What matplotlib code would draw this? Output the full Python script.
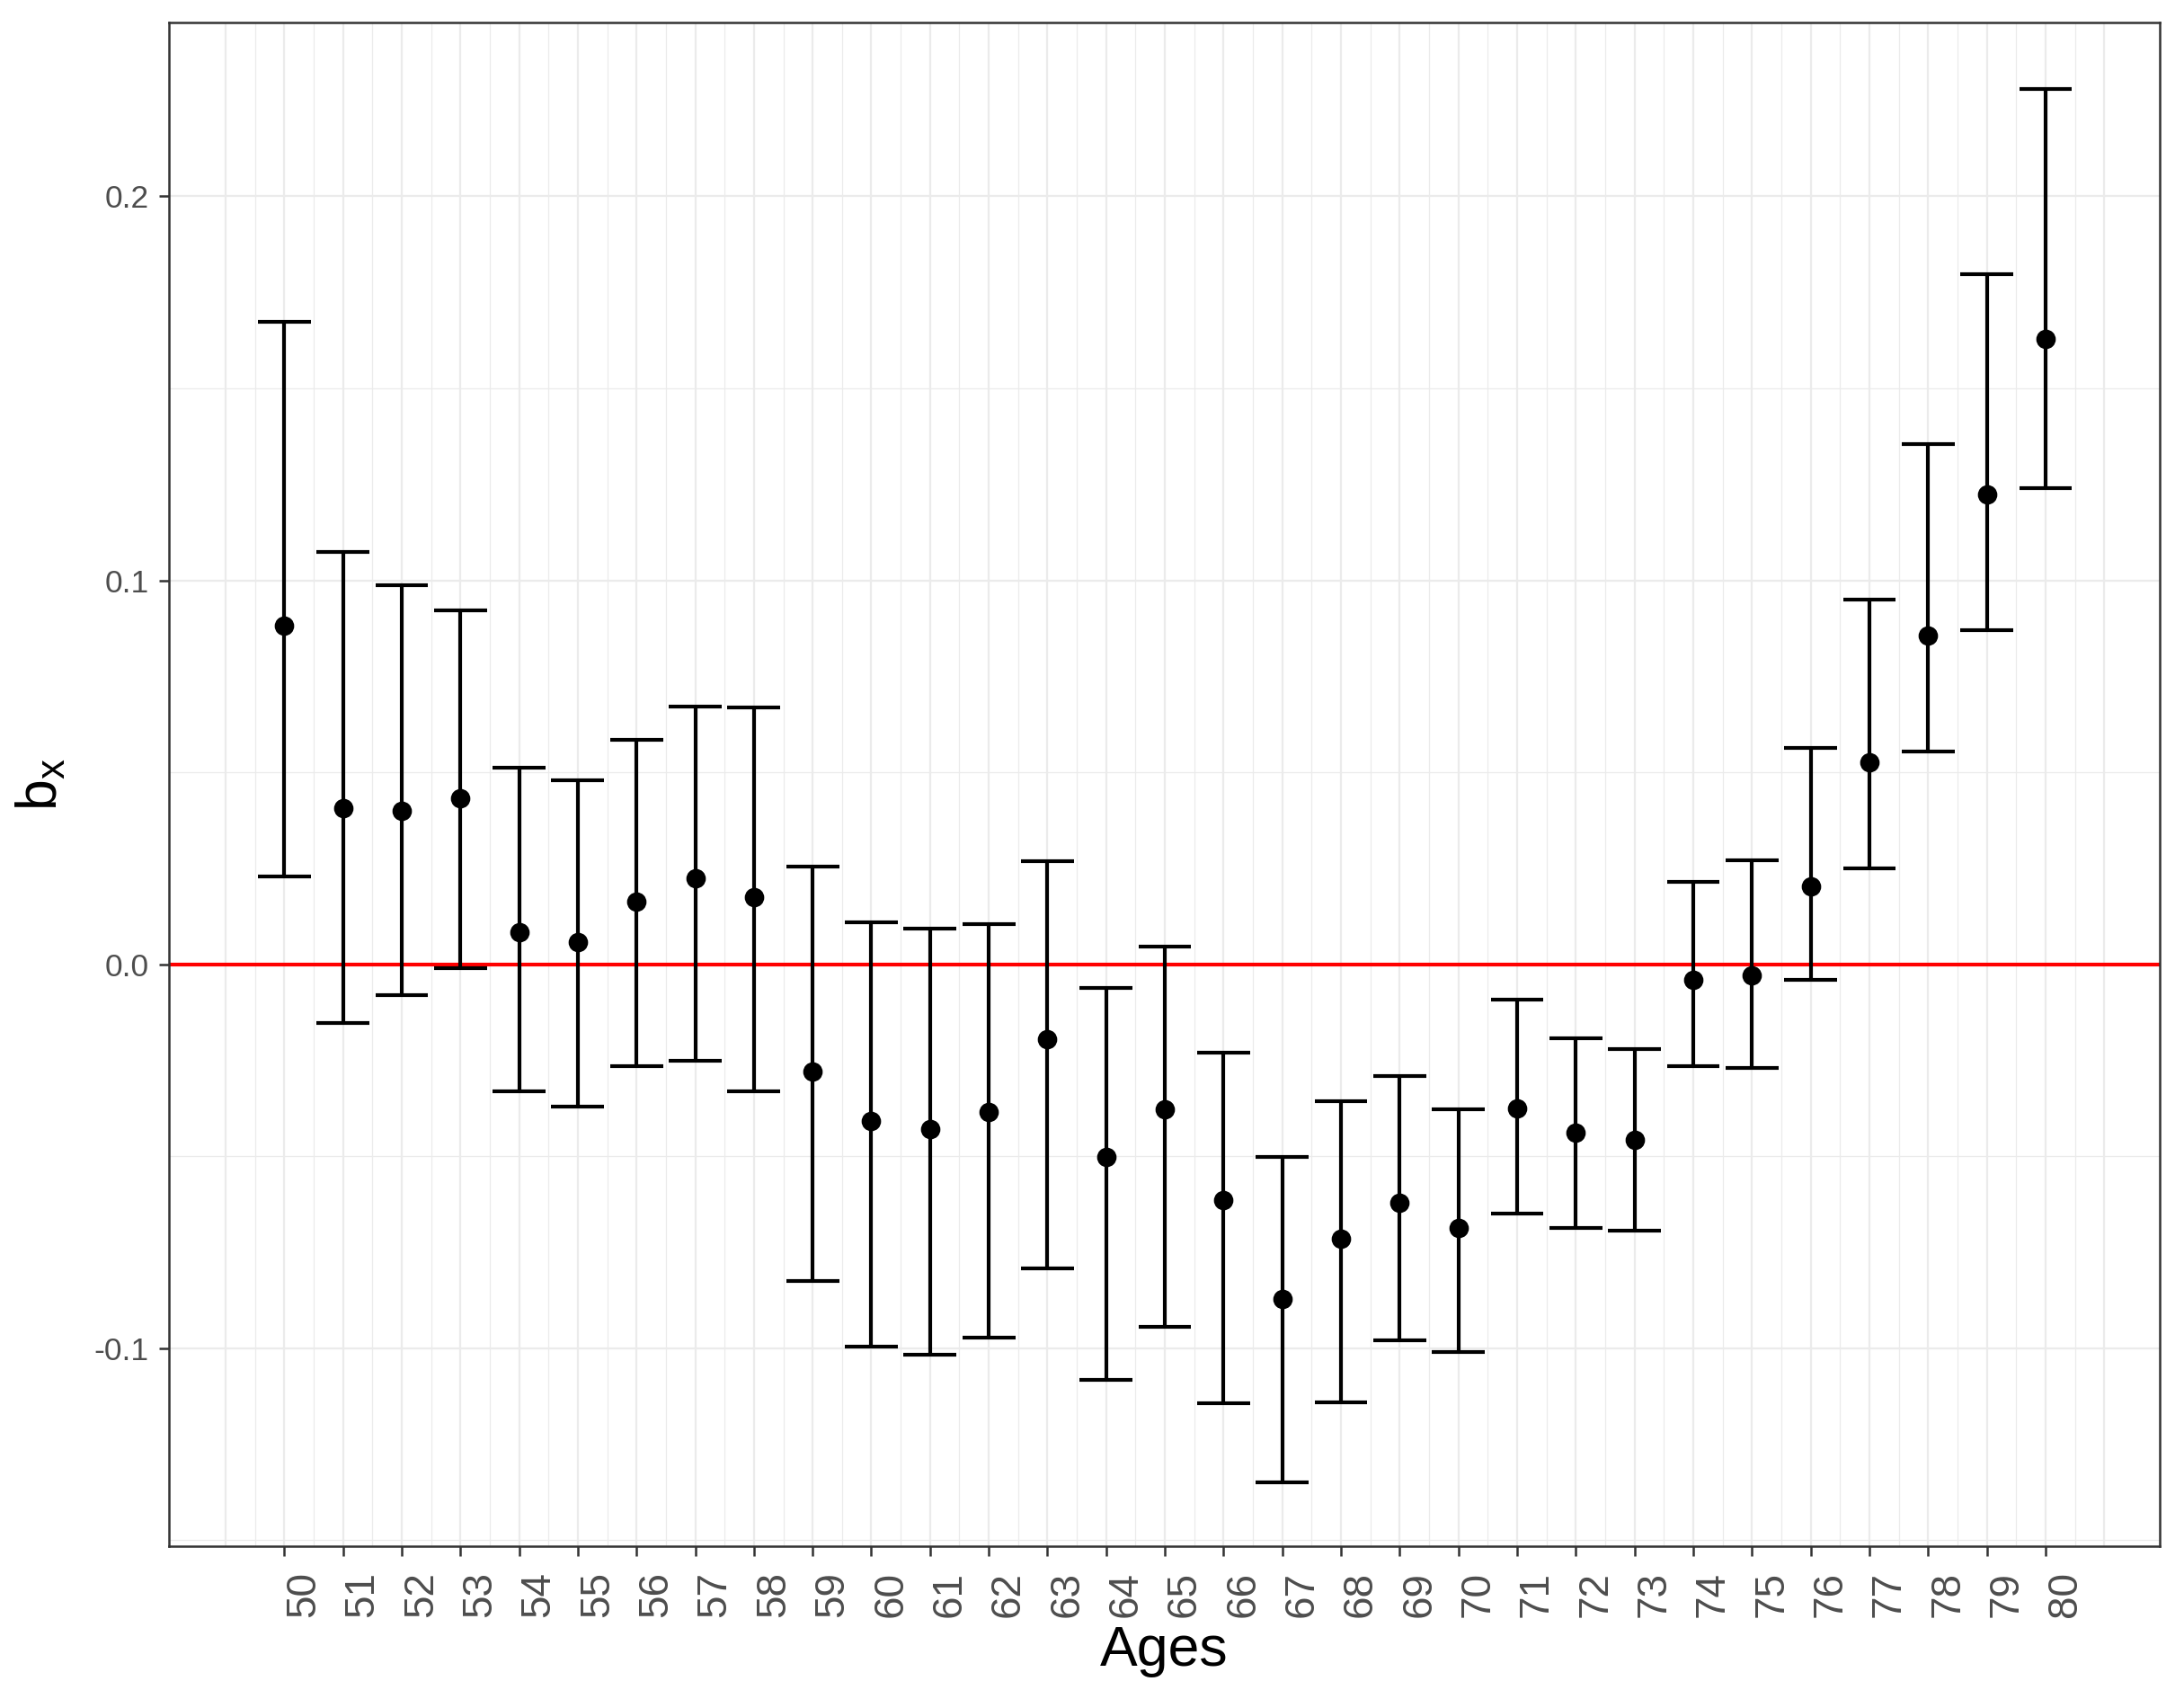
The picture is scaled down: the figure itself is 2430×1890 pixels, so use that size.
import numpy as np
import matplotlib
matplotlib.use("Agg")
import matplotlib.pyplot as plt

plt.rcParams['font.family'] = ['Liberation Sans', 'DejaVu Sans']

# estimated b_x with interval bounds
ages = list(range(50, 81))
bx = [0.0882, 0.0407, 0.0399, 0.0432, 0.0083, 0.0058, 0.0163, 0.0225, 0.0174,
      -0.0279, -0.0407, -0.0428, -0.0385, -0.0196, -0.0501, -0.0377, -0.0613,
      -0.0871, -0.0715, -0.0621, -0.0686, -0.0374, -0.0439, -0.0457, -0.0040,
      -0.0029, 0.0203, 0.0526, 0.0857, 0.1223, 0.1630]
upper = [0.1673, 0.1074, 0.0987, 0.0922, 0.0512, 0.0479, 0.0584, 0.0672, 0.0668,
         0.0254, 0.0109, 0.0094, 0.0105, 0.0269, -0.0062, 0.0047, -0.0229,
         -0.0501, -0.0356, -0.0290, -0.0377, -0.0091, -0.0192, -0.0221, 0.0214,
         0.0272, 0.0563, 0.0951, 0.1354, 0.1797, 0.2279]
lower = [0.0229, -0.0152, -0.0080, -0.0011, -0.0330, -0.0370, -0.0265, -0.0250,
         -0.0330, -0.0824, -0.0995, -0.1016, -0.0973, -0.0791, -0.1082, -0.0944,
         -0.1143, -0.1350, -0.1140, -0.0980, -0.1009, -0.0650, -0.0686, -0.0693,
         -0.0265, -0.0269, -0.0040, 0.0250, 0.0555, 0.0871, 0.1241]
yticks = [-0.1, 0.0, 0.1, 0.2]
ytick_labels = ["-0.1", "0.0", "0.1", "0.2"]

x = np.array(ages)
cap = 0.45

fig = plt.figure(figsize=(8.1, 6.3), dpi=300)
ax = fig.add_axes([0.0772, 0.090, 0.9118, 0.897])

# theme_bw style grid
for v in np.arange(49, 81.5, 0.5):
    ax.axvline(v, color="#EBEBEB", lw=0.55 if v % 1 == 0 else 0.3, zorder=0)
for v in [-0.15, -0.05, 0.05, 0.15]:
    ax.axhline(v, color="#EBEBEB", lw=0.3, zorder=0)
for v in yticks:
    ax.axhline(v, color="#EBEBEB", lw=0.55, zorder=0)

ax.axhline(0, color="red", lw=1.0, zorder=2)

ax.vlines(x, lower, upper, color="black", lw=1.0, zorder=3)
ax.hlines(upper, x - cap, x + cap, color="black", lw=1.0, zorder=3)
ax.hlines(lower, x - cap, x + cap, color="black", lw=1.0, zorder=3)
ax.plot(x, bx, "o", color="black", ms=4.2, zorder=4)

ax.set_xlim(48.03, 81.95)
ax.set_ylim(-0.1515, 0.2454)
ax.set_xticks(ages)
ax.set_xticklabels([str(a) for a in ages], rotation=90, fontsize=11,
                   color="#4D4D4D", ha="left")
ax.set_yticks(yticks)
ax.set_yticklabels(ytick_labels, fontsize=8.5, color="#4D4D4D")
ax.tick_params(length=2.7, width=0.6, color="#333333", pad=2.5)
ax.tick_params(axis="x", pad=4)

for s in ax.spines.values():
    s.set_color("#333333")
    s.set_linewidth(0.6)

ax.set_xlabel("Ages", fontsize=15, labelpad=2)
ax.set_ylabel("$\\mathregular{b_x}$", fontsize=15, labelpad=7)

fig.savefig("out.png", dpi=300)
